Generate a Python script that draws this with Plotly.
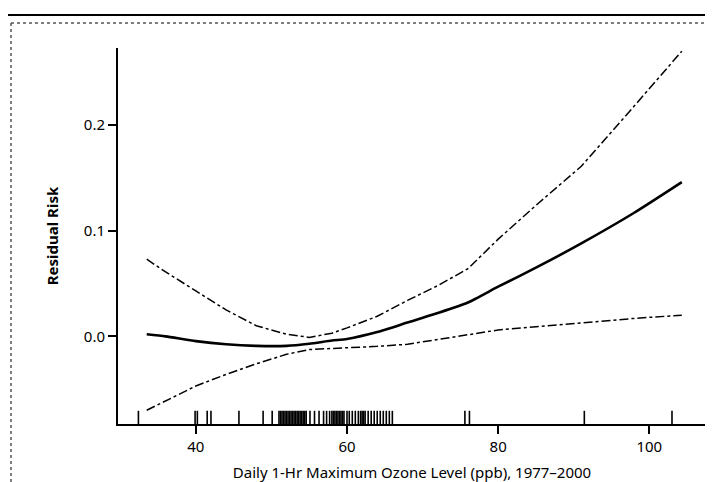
import plotly.graph_objects as go

# ---- data ----
ozone = [33.5, 36, 40, 44, 48, 52, 55, 58, 60, 64, 68, 72, 76, 80, 85, 91, 98, 104.3]
risk = [0.002, 0.000, -0.0045, -0.0075, -0.009, -0.009, -0.007, -0.004, -0.0025,
        0.004, 0.013, 0.022, 0.032, 0.047, 0.065, 0.088, 0.117, 0.146]
upper = [0.073, 0.061, 0.043, 0.025, 0.010, 0.002, -0.001, 0.003, 0.008,
         0.019, 0.034, 0.048, 0.064, 0.092, 0.124, 0.161, 0.218, 0.270]
lower = [-0.070, -0.061, -0.047, -0.036, -0.026, -0.017, -0.0125, -0.0115, -0.011,
         -0.0095, -0.0075, -0.003, 0.001, 0.006, 0.009, 0.013, 0.017, 0.020]
rug_x = [32.4, 39.9, 40.2, 41.5, 42.0, 45.7, 48.9,
         50.1, 51.0, 51.2, 51.4, 51.6, 51.8, 52.0, 52.2, 52.4, 52.6, 52.8, 53.0,
         53.2, 53.4, 53.6, 53.8, 54.0, 54.2, 54.4, 54.6, 55.1, 55.7, 56.3, 56.9,
         57.3, 57.7, 58.0, 58.2, 58.4, 58.6, 58.8, 59.0, 59.2, 59.4, 59.6,
         60.0, 60.3, 60.7, 61.1, 61.5, 61.8, 62.0, 62.2, 62.4, 62.8, 63.2, 63.6,
         64.0, 64.4, 64.8, 65.2, 65.6, 66.0, 75.6, 76.2, 91.4, 103.0]
x_ticks = [40, 60, 80, 100]
y_ticks = [0.0, 0.1, 0.2]
y_tick_labels = ["0.0", "0.1", "0.2"]

X_RANGE = [29.7, 107.5]
Y_RANGE = [-0.083, 0.273]
RUG_TOP = -0.0705

FONT = "Noto Sans, Open Sans, sans-serif"

fig = go.Figure()

# rug
rx, ry = [], []
for v in rug_x:
    rx += [v, v, None]
    ry += [Y_RANGE[0], RUG_TOP, None]
fig.add_trace(go.Scatter(x=rx, y=ry, mode="lines",
                         line=dict(color="black", width=1.6),
                         hoverinfo="skip", showlegend=False))

fig.add_trace(go.Scatter(x=ozone, y=upper, mode="lines",
                         line=dict(color="black", width=1.5, dash="dashdot"),
                         showlegend=False))
fig.add_trace(go.Scatter(x=ozone, y=lower, mode="lines",
                         line=dict(color="black", width=1.5, dash="dashdot"),
                         showlegend=False))
fig.add_trace(go.Scatter(x=ozone, y=risk, mode="lines", line_shape="spline",
                         line=dict(color="black", width=2.6, smoothing=0.6),
                         showlegend=False))

W, H = 713, 482
L, R, T, B = 110, 15, 40, 66
pw, ph = W - L - R, H - T - B


def px(xp):
    return (xp - L) / pw


def py(yp):
    return (H - B - yp) / ph


# scanned frame
fig.add_shape(type="line", xref="paper", yref="paper",
              x0=px(0), x1=px(W), y0=py(7), y1=py(7),
              line=dict(color="black", width=2))
fig.add_shape(type="line", xref="paper", yref="paper",
              x0=px(3), x1=px(W), y0=py(15), y1=py(15),
              line=dict(color="#555555", width=1.5, dash="dot"))
fig.add_shape(type="line", xref="paper", yref="paper",
              x0=px(3), x1=px(3), y0=py(15), y1=py(H),
              line=dict(color="#555555", width=1.5, dash="dot"))

fig.update_layout(
    width=W, height=H,
    margin=dict(l=L, r=R, t=T, b=B),
    paper_bgcolor="white", plot_bgcolor="white",
    font=dict(family=FONT, color="black", size=15),
    xaxis=dict(range=X_RANGE, tickvals=x_ticks, ticks="outside", ticklen=8,
               tickwidth=1.5, tickcolor="black", showline=True, linecolor="black",
               linewidth=2, showgrid=False, zeroline=False,
               tickfont=dict(size=15),
               title=dict(text="Daily 1-Hr Maximum Ozone Level (ppb), 1977\u20132000",
                          font=dict(size=15), standoff=12)),
    yaxis=dict(range=Y_RANGE, tickvals=y_ticks, ticktext=y_tick_labels,
               ticks="outside", ticklen=8, tickwidth=1.5, tickcolor="black",
               showline=True, linecolor="black", linewidth=2, showgrid=False,
               zeroline=False, tickfont=dict(size=15),
               title=dict(text="<b>Residual Risk</b>", font=dict(size=15), standoff=22)),
)

fig.write_html("out.html")
